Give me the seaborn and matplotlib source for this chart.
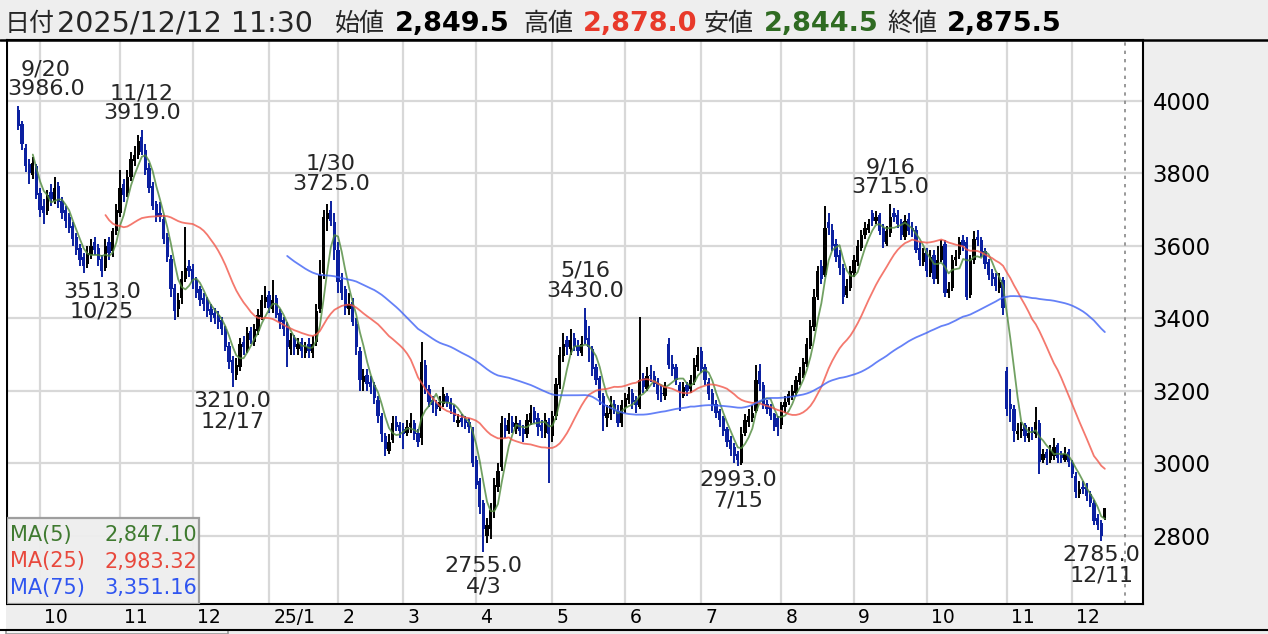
import numpy as np
import pandas as pd
import matplotlib
matplotlib.use('Agg')
import matplotlib.pyplot as plt
import matplotlib.transforms as mtransforms
from matplotlib.patches import Rectangle
from matplotlib.lines import Line2D
import seaborn as sns

# 日足データ (2024/9/20 - 2025/12/12, 300営業日)
closes = [
    3930, 3880, 3820, 3800, 3830, 3740, 3700, 3690, 3740, 3730,
    3760, 3720, 3690, 3670, 3650, 3620, 3590, 3560, 3545, 3580,
    3600, 3590, 3560, 3530, 3600, 3580, 3640, 3700, 3760, 3740,
    3790, 3840, 3850, 3890, 3860, 3810, 3760, 3710, 3680, 3680,
    3620, 3570, 3480, 3420, 3450, 3510, 3540, 3530, 3500, 3470,
    3450, 3440, 3420, 3410, 3400, 3390, 3370, 3320, 3280, 3250,
    3270, 3330, 3320, 3360, 3340, 3370, 3410, 3450, 3460, 3430,
    3450, 3410, 3390, 3370, 3320, 3340, 3320, 3330, 3310, 3320,
    3310, 3330, 3420, 3520, 3680, 3690, 3670, 3590, 3500, 3470,
    3430, 3440, 3390, 3320, 3230, 3240, 3220, 3210, 3180, 3130,
    3080, 3040, 3060, 3110, 3100, 3090, 3080, 3100, 3110, 3080,
    3060, 3280, 3200, 3170, 3160, 3150, 3170, 3190, 3170, 3150,
    3130, 3120, 3115, 3110, 3100, 3000, 2940, 2880, 2820, 2830,
    2870, 2940, 2980, 3110, 3090, 3120, 3100, 3110, 3090, 3080,
    3120, 3140, 3120, 3100, 3090, 3120, 3080, 3130, 3220, 3300,
    3330, 3320, 3340, 3320, 3310, 3330, 3340, 3320, 3260, 3230,
    3180, 3130, 3140, 3160, 3150, 3110, 3160, 3180, 3190, 3170,
    3160, 3230, 3210, 3240, 3240, 3220, 3190, 3190, 3210, 3270,
    3260, 3230, 3200, 3210, 3200, 3230, 3270, 3300, 3260, 3230,
    3190, 3160, 3140, 3120, 3090, 3060, 3040, 3020, 3010, 3080,
    3120, 3130, 3140, 3230, 3220, 3160, 3150, 3130, 3100, 3100,
    3160, 3170, 3190, 3200, 3230, 3250, 3280, 3330, 3380, 3460,
    3530, 3510, 3650, 3650, 3600, 3570, 3540, 3460, 3490, 3530,
    3560, 3600, 3630, 3650, 3660, 3670, 3680, 3640, 3610, 3640,
    3680, 3680, 3660, 3630, 3670, 3640, 3640, 3590, 3560, 3580,
    3530, 3570, 3510, 3560, 3600, 3470, 3480, 3560, 3570, 3610,
    3600, 3460, 3560, 3620, 3615, 3580, 3550, 3520, 3510, 3490,
    3500, 3430, 3150, 3150, 3090, 3090, 3095, 3075, 3085, 3085,
    3115, 3005, 3025, 3015, 3035, 3045, 3015, 3015, 3025, 3005,
    2970, 2920, 2930, 2930, 2910, 2890, 2840, 2830, 2800, 2875.5,
]
opens = [
    3975, 3935, 3870, 3825, 3795, 3820, 3745, 3710, 3695, 3750,
    3725, 3765, 3725, 3700, 3680, 3655, 3625, 3595, 3570, 3550,
    3575, 3610, 3595, 3565, 3540, 3610, 3585, 3640, 3690, 3770,
    3745, 3790, 3835, 3850, 3900, 3865, 3815, 3765, 3715, 3690,
    3675, 3625, 3565, 3485, 3425, 3455, 3510, 3545, 3535, 3505,
    3480, 3455, 3450, 3425, 3415, 3410, 3395, 3370, 3325, 3285,
    3245, 3265, 3335, 3315, 3365, 3335, 3365, 3405, 3445, 3465,
    3425, 3455, 3415, 3395, 3375, 3315, 3345, 3315, 3335, 3305,
    3330, 3305, 3335, 3425, 3525, 3675, 3700, 3665, 3590, 3505,
    3480, 3425, 3445, 3385, 3310, 3225, 3245, 3225, 3215, 3175,
    3130, 3075, 3035, 3065, 3115, 3105, 3095, 3085, 3100, 3110,
    3085, 3070, 3270, 3205, 3175, 3165, 3155, 3165, 3185, 3170,
    3150, 3110, 3125, 3120, 3115, 3095, 3010, 2950, 2890, 2800,
    2820, 2870, 2935, 2990, 3105, 3090, 3115, 3095, 3110, 3095,
    3080, 3115, 3145, 3125, 3105, 3085, 3115, 3075, 3130, 3215,
    3295, 3340, 3315, 3345, 3325, 3305, 3395, 3345, 3315, 3265,
    3235, 3185, 3125, 3135, 3165, 3145, 3110, 3155, 3175, 3195,
    3175, 3155, 3235, 3205, 3245, 3240, 3225, 3195, 3185, 3330,
    3275, 3265, 3215, 3185, 3215, 3205, 3225, 3265, 3310, 3265,
    3225, 3195, 3165, 3145, 3125, 3095, 3065, 3045, 3025, 3000,
    3085, 3115, 3125, 3145, 3255, 3215, 3165, 3155, 3135, 3125,
    3105, 3155, 3170, 3185, 3195, 3225, 3245, 3275, 3325, 3375,
    3460, 3545, 3520, 3665, 3645, 3605, 3575, 3540, 3465, 3485,
    3525, 3555, 3595, 3630, 3645, 3690, 3670, 3685, 3650, 3605,
    3635, 3690, 3685, 3665, 3625, 3675, 3650, 3645, 3595, 3555,
    3585, 3525, 3575, 3510, 3560, 3605, 3470, 3485, 3560, 3575,
    3615, 3610, 3465, 3560, 3625, 3615, 3585, 3555, 3525, 3515,
    3485, 3505, 3255, 3165, 3150, 3080, 3090, 3105, 3070, 3090,
    3080, 3110, 3010, 3030, 3010, 3020, 3050, 3025, 3010, 3030,
    3000, 2965, 2915, 2935, 2935, 2915, 2890, 2850, 2835, 2849.5,
]
highs = [
    3986, 3945, 3880, 3840, 3845, 3825, 3760, 3730, 3755, 3770,
    3790, 3775, 3735, 3710, 3690, 3665, 3635, 3605, 3580, 3600,
    3620, 3625, 3605, 3575, 3620, 3625, 3650, 3715, 3810, 3785,
    3810, 3860, 3875, 3905, 3919, 3880, 3830, 3775, 3725, 3720,
    3685, 3635, 3575, 3495, 3470, 3530, 3652, 3560, 3550, 3515,
    3490, 3470, 3460, 3440, 3430, 3420, 3405, 3380, 3335, 3295,
    3290, 3345, 3350, 3375, 3375, 3385, 3425, 3465, 3490, 3475,
    3506, 3465, 3425, 3405, 3390, 3360, 3355, 3345, 3345, 3335,
    3345, 3350, 3440, 3560, 3700, 3715, 3725, 3690, 3610, 3525,
    3490, 3470, 3455, 3400, 3320, 3260, 3260, 3240, 3225, 3185,
    3140, 3085, 3080, 3130, 3130, 3115, 3110, 3120, 3140, 3120,
    3095, 3335, 3285, 3215, 3185, 3175, 3185, 3210, 3195, 3180,
    3160, 3135, 3135, 3130, 3125, 3100, 3020, 2960, 2900, 2850,
    2890, 2960, 3000, 3130, 3125, 3140, 3130, 3130, 3120, 3105,
    3135, 3160, 3155, 3140, 3120, 3140, 3125, 3145, 3235, 3320,
    3360, 3350, 3370, 3360, 3340, 3350, 3430, 3380, 3325, 3275,
    3240, 3195, 3160, 3185, 3175, 3160, 3175, 3195, 3210, 3205,
    3185, 3404, 3250, 3265, 3270, 3255, 3235, 3215, 3225, 3345,
    3300, 3275, 3225, 3225, 3225, 3245, 3290, 3320, 3320, 3275,
    3235, 3205, 3175, 3150, 3130, 3100, 3075, 3055, 3035, 3100,
    3135, 3150, 3160, 3270, 3275, 3225, 3175, 3165, 3140, 3130,
    3170, 3185, 3200, 3215, 3240, 3265, 3290, 3345, 3395, 3480,
    3545, 3560, 3710, 3690, 3660, 3620, 3590, 3550, 3510, 3545,
    3575, 3615, 3645, 3665, 3675, 3700, 3695, 3690, 3660, 3655,
    3715, 3705, 3700, 3675, 3685, 3690, 3665, 3655, 3610, 3595,
    3595, 3590, 3590, 3600, 3615, 3615, 3500, 3575, 3590, 3625,
    3630, 3625, 3575, 3640, 3645, 3625, 3595, 3565, 3535, 3525,
    3525, 3515, 3265, 3205, 3160, 3110, 3115, 3110, 3100, 3100,
    3155, 3120, 3040, 3040, 3050, 3070, 3055, 3035, 3045, 3040,
    3010, 2975, 2950, 2950, 2945, 2925, 2900, 2860, 2845, 2878,
]
lows = [
    3920, 3865, 3805, 3770, 3785, 3730, 3680, 3660, 3685, 3710,
    3715, 3705, 3675, 3650, 3635, 3600, 3575, 3545, 3525, 3540,
    3565, 3575, 3545, 3513, 3530, 3560, 3570, 3630, 3680, 3720,
    3735, 3780, 3820, 3840, 3850, 3795, 3745, 3700, 3665, 3665,
    3605, 3555, 3460, 3395, 3405, 3440, 3500, 3515, 3480, 3455,
    3435, 3420, 3405, 3390, 3385, 3370, 3355, 3310, 3260, 3210,
    3230, 3255, 3300, 3305, 3330, 3325, 3355, 3395, 3430, 3415,
    3415, 3400, 3370, 3350, 3266, 3300, 3300, 3300, 3290, 3290,
    3290, 3290, 3325, 3415, 3510, 3640, 3655, 3560, 3470, 3450,
    3410, 3410, 3380, 3300, 3200, 3200, 3200, 3190, 3165, 3110,
    3060, 3020, 3025, 3055, 3090, 3070, 3040, 3075, 3085, 3065,
    3045, 3050, 3190, 3155, 3140, 3130, 3145, 3155, 3155, 3135,
    3115, 3100, 3100, 3095, 3085, 2990, 2930, 2860, 2755, 2780,
    2790, 2850, 2920, 2980, 3070, 3080, 3085, 3080, 3075, 3060,
    3070, 3105, 3110, 3075, 3070, 3070, 2946, 3060, 3120, 3205,
    3280, 3300, 3300, 3310, 3295, 3295, 3330, 3280, 3240, 3215,
    3160, 3090, 3100, 3120, 3135, 3100, 3100, 3140, 3165, 3150,
    3140, 3150, 3195, 3200, 3225, 3210, 3175, 3170, 3175, 3260,
    3240, 3215, 3145, 3180, 3185, 3195, 3215, 3255, 3250, 3215,
    3175, 3145, 3125, 3100, 3075, 3045, 3020, 3000, 2993, 2995,
    3075, 3100, 3115, 3140, 3200, 3150, 3135, 3120, 3090, 3075,
    3095, 3140, 3160, 3175, 3185, 3215, 3235, 3265, 3315, 3365,
    3450, 3495, 3515, 3630, 3585, 3555, 3520, 3440, 3455, 3475,
    3515, 3545, 3585, 3620, 3635, 3655, 3660, 3630, 3595, 3600,
    3625, 3665, 3650, 3615, 3615, 3630, 3625, 3580, 3545, 3545,
    3515, 3515, 3495, 3495, 3555, 3460, 3455, 3475, 3545, 3565,
    3585, 3450, 3455, 3550, 3600, 3570, 3535, 3505, 3490, 3475,
    3470, 3410, 3130, 3115, 3060, 3065, 3070, 3060, 3060, 3065,
    3070, 2970, 3000, 2995, 3000, 3010, 3000, 3000, 3005, 2990,
    2960, 2905, 2905, 2915, 2895, 2880, 2830, 2815, 2785, 2844.5,
]

# 月ごとの営業日数 (2024/9 から 2025/12) と目盛ラベル
month_days = [6, 22, 20, 21, 19, 18, 20, 21, 20, 21, 22, 20, 20, 22, 18, 10]
month_labels = ['10', '11', '12', '25/1', '2', '3', '4', '5', '6', '7', '8', '9', '10', '11', '12']
yticks = [2800, 3000, 3200, 3400, 3600, 3800, 4000]

# 高値・安値の注記
peak_idx = [0, 34, 86, 156, 240]
peak_dates = ['9/20', '11/12', '1/30', '5/16', '9/16']
peak_vals = [3986.0, 3919.0, 3725.0, 3430.0, 3715.0]
trough_idx = [23, 59, 128, 198, 298]
trough_dates = ['10/25', '12/17', '4/3', '7/15', '12/11']
trough_vals = [3513.0, 3210.0, 2755.0, 2993.0, 2785.0]

# ヘッダーと移動平均
header_date = '2025/12/12 11:30'
header_names = ['始値', '高値', '安値', '終値']
header_vals = ['2,849.5', '2,878.0', '2,844.5', '2,875.5']
ma_names = ['MA(5)', 'MA(25)', 'MA(75)']
ma_windows = [5, 25, 75]
ma_texts = ['2,847.10', '2,983.32', '3,351.16']

W, H = 1268, 634
BLUE = '#0b20a0'
ma_colors = ['#4f8a3c', '#f2574a', '#3f62f5']
ma_text_colors = ['#3f7a30', '#e8483c', '#2f55f0']
val_colors = ['black', '#e8392a', '#2f6b22', 'black']

sns.set_theme(style='white')
plt.rcParams['font.family'] = ['DejaVu Sans', 'Noto Sans CJK JP']

df = pd.DataFrame({'open': opens, 'high': highs, 'low': lows, 'close': closes})
df['day'] = np.arange(len(df))
for w in ma_windows:
    df[f'ma{w}'] = df['close'].rolling(w).mean()

starts = np.cumsum([0] + month_days)[1:-1]

fig = plt.figure(figsize=(W / 100, H / 100), dpi=100, facecolor='#eeeeee')
ax = fig.add_axes([7 / W, (H - 604) / H, (1143 - 7) / W, (604 - 40) / H])
ax.set_facecolor('white')

# ローソク足
up = df['close'] >= df['open']
colors = np.where(up, 'black', BLUE)
ax.vlines(df['day'], df['low'], df['high'], colors=colors, lw=1.4, zorder=3)
body = (df['close'] - df['open']).abs().clip(lower=4)
ax.bar(df['day'], body, bottom=np.minimum(df['open'], df['close']),
       width=0.9, color=colors, lw=0, zorder=3)

# 移動平均線
for w, c in zip(ma_windows, ma_colors):
    sns.lineplot(data=df, x='day', y=f'ma{w}', color=c, lw=1.3, alpha=0.8, ax=ax, zorder=4)

ax.set_xlim(-3.1, 309.5)
ax.set_ylim(2612, 4168)
ax.axvline(304.5, color='#888888', ls=(0, (2, 3)), lw=1.2, zorder=2)

# 目盛とグリッド
ax.set_yticks(yticks)
ax.yaxis.tick_right()
ax.tick_params(axis='y', length=0, pad=7, labelsize=16.5, labelcolor='black')
ax.set_xticks(starts)
ax.set_xticklabels(month_labels)
ax.tick_params(axis='x', length=0, pad=3, labelsize=13.5, labelcolor='black')
shift = mtransforms.ScaledTranslation(3 / 72, 0, fig.dpi_scale_trans)
for lab in ax.get_xticklabels():
    lab.set_horizontalalignment('left')
    lab.set_transform(lab.get_transform() + shift)
ax.grid(True, color='#d8d8d8', lw=1.6)
ax.set_axisbelow(True)
ax.set_xlabel('')
ax.set_ylabel('')
for s in ax.spines.values():
    s.set_color('black')
    s.set_linewidth(1.5)

# 高値・安値の注記
xmin = ax.get_xlim()[0]
for i, d, v in zip(peak_idx, peak_dates, peak_vals):
    edge = i < 8
    ax.annotate(f'{d}\n{v:.1f}', xy=(xmin if edge else i, v), xytext=(0, 5),
                textcoords='offset points', ha='left' if edge else 'center', va='bottom',
                multialignment='center', fontsize=16, linespacing=1.0, zorder=6)
for i, d, v in zip(trough_idx, trough_dates, trough_vals):
    ax.annotate(f'{v:.1f}\n{d}', xy=(i, v), xytext=(0, -3),
                textcoords='offset points', ha='center', va='top',
                multialignment='center', fontsize=16, linespacing=1.0, zorder=6)

# 移動平均の凡例ボックス
ax_w, ax_h = 1136, 564
ax.add_patch(Rectangle((0, 0), 192 / ax_w, 86 / ax_h, transform=ax.transAxes,
                       facecolor='#eeeeee', edgecolor='#9a9a9a', lw=1.6, alpha=0.95, zorder=7))
for k, (n, t, c) in enumerate(zip(ma_names, ma_texts, ma_text_colors)):
    yy = (604 - (535 + 26.5 * k)) / ax_h
    ax.text(3 / ax_w, yy, n, transform=ax.transAxes, color=c, fontsize=15,
            va='center', ha='left', zorder=8)
    ax.text(190 / ax_w, yy, t, transform=ax.transAxes, color=c, fontsize=15,
            va='center', ha='right', zorder=8)

# 枠線など
fig.add_artist(Line2D([0, 1], [(H - 40) / H] * 2, color='black', lw=1.8))
fig.add_artist(Line2D([0, 1], [(H - 630) / H] * 2, color='black', lw=1.5))
fig.add_artist(Rectangle((0, 0), 6 / W, (H - 40) / H, transform=fig.transFigure,
                         facecolor='white', edgecolor='none'))
fig.add_artist(Rectangle((6 / W, 0), 222 / W, 4 / H, transform=fig.transFigure,
                         facecolor='#f5f5f5', edgecolor='#999999', lw=1.2))

# ヘッダー (左端のピクセル位置)
name_x = [335, 523, 704, 887]
val_x = [395, 583, 764, 947]
yb = (H - 31) / H
fig.text(5 / W, yb, '日付', fontsize=18, va='baseline', ha='left')
fig.text(57 / W, yb, header_date, fontsize=20.5, va='baseline', ha='left')
for n, v, c, nx, vx in zip(header_names, header_vals, val_colors, name_x, val_x):
    fig.text(nx / W, yb, n, fontsize=18, va='baseline', ha='left')
    fig.text(vx / W, yb, v, color=c, fontsize=19.5, fontweight='bold', va='baseline', ha='left')

fig.savefig('out.png', dpi=100, facecolor=fig.get_facecolor())
